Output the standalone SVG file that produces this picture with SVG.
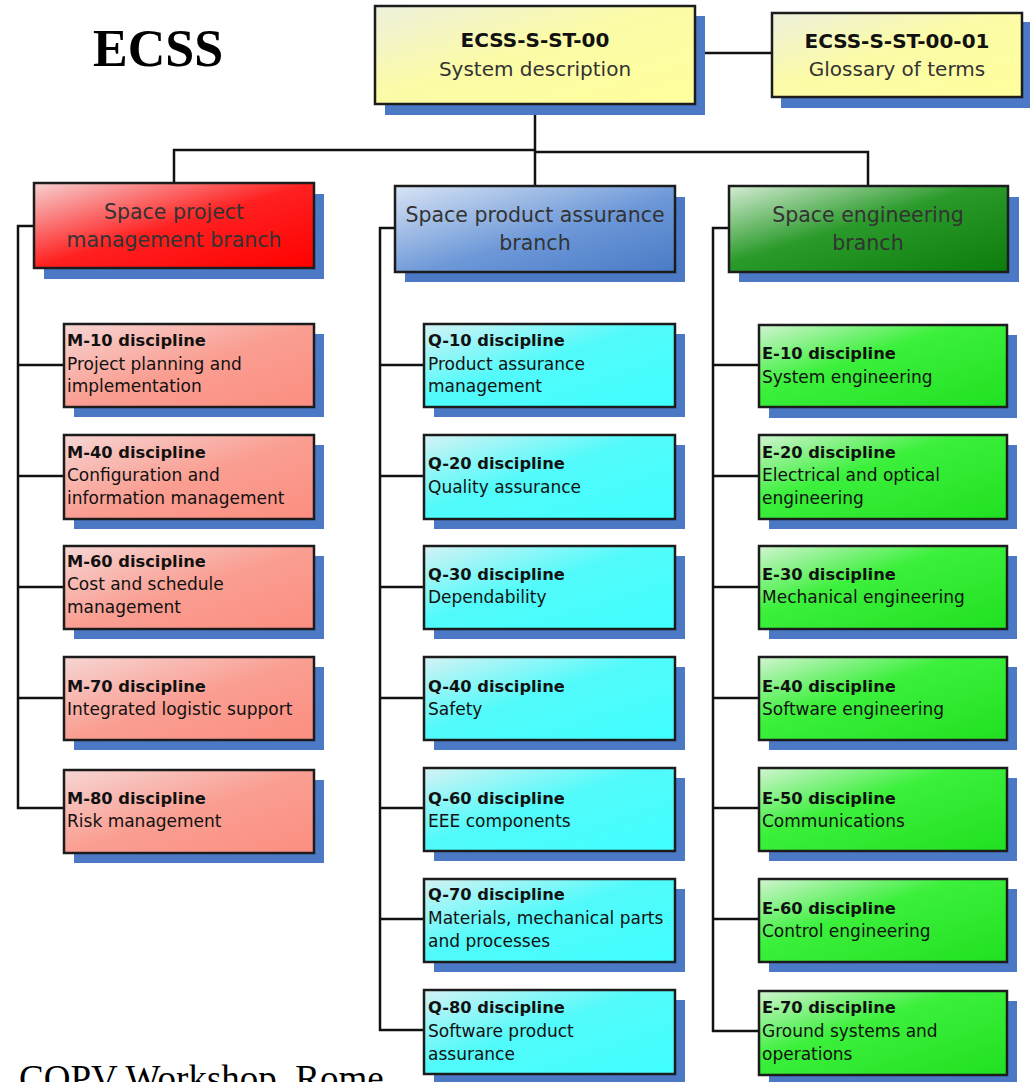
<svg xmlns="http://www.w3.org/2000/svg" width="1030" height="1082" viewBox="0 0 1030 1082">
<defs>
<style>
.sh{fill:#4b79c6}
.bx{stroke:#1c1c1c;stroke-width:2.5}
.conn{stroke:#111;stroke-width:2.5;fill:none}
.tb{font-family:"DejaVu Sans",sans-serif;font-weight:bold;font-size:16.3px;fill:#111}
.tn{font-family:"DejaVu Sans",sans-serif;font-size:17px;fill:#111}
.br{font-family:"DejaVu Sans",sans-serif;font-size:20.5px;fill:#333;text-anchor:middle}
.hd{font-family:"DejaVu Sans",sans-serif;font-weight:bold;font-size:20px;fill:#111;text-anchor:middle}
.hn{font-family:"DejaVu Sans",sans-serif;font-size:20px;fill:#333;text-anchor:middle}
.m{fill:url(#gM)}
.q{fill:url(#gQ)}
.e{fill:url(#gE)}
</style>
<linearGradient id="gY" x1="0" y1="0" x2="1" y2="1"><stop offset="0" stop-color="#eef0dc"/><stop offset="0.45" stop-color="#fbfba8"/><stop offset="1" stop-color="#ffff9c"/></linearGradient>
<linearGradient id="gR" x1="0" y1="0" x2="1" y2="1"><stop offset="0" stop-color="#f6d2d2"/><stop offset="0.5" stop-color="#ff2020"/><stop offset="1" stop-color="#ff0000"/></linearGradient>
<linearGradient id="gB" x1="0" y1="0" x2="1" y2="1"><stop offset="0" stop-color="#d8e4f4"/><stop offset="0.55" stop-color="#6d98d8"/><stop offset="1" stop-color="#4a7bc6"/></linearGradient>
<linearGradient id="gG" x1="0" y1="0" x2="1" y2="1"><stop offset="0" stop-color="#d4ecd4"/><stop offset="0.45" stop-color="#2a9a2a"/><stop offset="1" stop-color="#0c7c0c"/></linearGradient>
<linearGradient id="gM" x1="0" y1="0" x2="1" y2="1"><stop offset="0" stop-color="#f6d6d4"/><stop offset="0.5" stop-color="#fa9e92"/><stop offset="1" stop-color="#fb8e80"/></linearGradient>
<linearGradient id="gQ" x1="0" y1="0" x2="1" y2="1"><stop offset="0" stop-color="#d6f2f4"/><stop offset="0.45" stop-color="#52fafa"/><stop offset="1" stop-color="#40ffff"/></linearGradient>
<linearGradient id="gE" x1="0" y1="0" x2="1" y2="1"><stop offset="0" stop-color="#d2f4d2"/><stop offset="0.4" stop-color="#3cf03c"/><stop offset="1" stop-color="#20e020"/></linearGradient>
</defs>
<rect width="1030" height="1082" fill="#fff"/>

<text x="93" y="66" font-family="Liberation Serif,serif" font-weight="bold" font-size="52" fill="#000">ECSS</text>
<text x="19" y="1091" font-family="Liberation Serif,serif" font-size="37" fill="#000">COPV Workshop, Rome</text>

<g id="connectors">
<path class="conn" d="M694 53H772"/>
<path class="conn" d="M535 104V186M174 183V150H535M535 152H868V186"/>
<path class="conn" d="M34 226H18V808H64M18 365H64M18 476H64M18 587H64M18 698H64"/>
<path class="conn" d="M395 228H380V1030H424M380 365H424M380 476H424M380 587H424M380 698H424M380 808H424M380 919H424"/>
<path class="conn" d="M729 228H713V1031H759M713 365H759M713 476H759M713 587H759M713 698H759M713 808H759M713 919H759"/>
</g>

<g id="n-st00">
<rect class="sh" x="385" y="16" width="320" height="99"/>
<rect class="bx" x="375" y="6" width="320" height="98" fill="url(#gY)"/>
<text class="hd" x="535" y="47">ECSS-S-ST-00</text>
<text class="hn" x="535" y="76">System description</text>
</g>
<g id="n-st0001">
<rect class="sh" x="781" y="22" width="250" height="86"/>
<rect class="bx" x="772" y="13" width="250" height="84" fill="url(#gY)"/>
<text class="hd" x="897" y="48" font-size="19">ECSS-S-ST-00-01</text>
<text class="hn" x="897" y="76">Glossary of terms</text>
</g>

<g id="n-mgmt">
<rect class="sh" x="44" y="194" width="280" height="85"/>
<rect class="bx" x="34" y="183" width="280" height="85" fill="url(#gR)"/>
<text class="br" x="174" y="219">Space project</text>
<text class="br" x="174" y="247">management branch</text>
</g>
<g id="n-pa">
<rect class="sh" x="405" y="197" width="280" height="85"/>
<rect class="bx" x="395" y="186" width="280" height="86" fill="url(#gB)"/>
<text class="br" x="535" y="222">Space product assurance</text>
<text class="br" x="535" y="250">branch</text>
</g>
<g id="n-eng">
<rect class="sh" x="739" y="197" width="280" height="85"/>
<rect class="bx" x="729" y="186" width="279" height="86" fill="url(#gG)"/>
<text class="br" x="868" y="222">Space engineering</text>
<text class="br" x="868" y="250">branch</text>
</g>

<g id="n-m10"><rect class="sh" x="74" y="334" width="250" height="83"/><rect class="bx m" x="64" y="324" width="250" height="83"/>
<text class="tb" x="67" y="346">M-10 discipline</text><text class="tn" x="67" y="370">Project planning and</text><text class="tn" x="67" y="392">implementation</text></g>
<g id="n-m40"><rect class="sh" x="74" y="445" width="250" height="84"/><rect class="bx m" x="64" y="435" width="250" height="84"/>
<text class="tb" x="67" y="458">M-40 discipline</text><text class="tn" x="67" y="481">Configuration and</text><text class="tn" x="67" y="504">information management</text></g>
<g id="n-m60"><rect class="sh" x="74" y="556" width="250" height="83"/><rect class="bx m" x="64" y="546" width="250" height="83"/>
<text class="tb" x="67" y="567">M-60 discipline</text><text class="tn" x="67" y="590">Cost and schedule</text><text class="tn" x="67" y="613">management</text></g>
<g id="n-m70"><rect class="sh" x="74" y="667" width="250" height="83"/><rect class="bx m" x="64" y="657" width="250" height="83"/>
<text class="tb" x="67" y="692">M-70 discipline</text><text class="tn" x="67" y="715">Integrated logistic support</text></g>
<g id="n-m80"><rect class="sh" x="74" y="780" width="250" height="83"/><rect class="bx m" x="64" y="770" width="250" height="83"/>
<text class="tb" x="67" y="804">M-80 discipline</text><text class="tn" x="67" y="827">Risk management</text></g>

<g id="n-q10"><rect class="sh" x="434" y="334" width="251" height="83"/><rect class="bx q" x="424" y="324" width="251" height="83"/>
<text class="tb" x="428" y="346">Q-10 discipline</text><text class="tn" x="428" y="370">Product assurance</text><text class="tn" x="428" y="392">management</text></g>
<g id="n-q20"><rect class="sh" x="434" y="445" width="251" height="84"/><rect class="bx q" x="424" y="435" width="251" height="84"/>
<text class="tb" x="428" y="469">Q-20 discipline</text><text class="tn" x="428" y="493">Quality assurance</text></g>
<g id="n-q30"><rect class="sh" x="434" y="556" width="251" height="83"/><rect class="bx q" x="424" y="546" width="251" height="83"/>
<text class="tb" x="428" y="580">Q-30 discipline</text><text class="tn" x="428" y="603">Dependability</text></g>
<g id="n-q40"><rect class="sh" x="434" y="667" width="251" height="83"/><rect class="bx q" x="424" y="657" width="251" height="83"/>
<text class="tb" x="428" y="692">Q-40 discipline</text><text class="tn" x="428" y="715">Safety</text></g>
<g id="n-q60"><rect class="sh" x="434" y="778" width="251" height="83"/><rect class="bx q" x="424" y="768" width="251" height="83"/>
<text class="tb" x="428" y="804">Q-60 discipline</text><text class="tn" x="428" y="827">EEE components</text></g>
<g id="n-q70"><rect class="sh" x="434" y="889" width="251" height="83"/><rect class="bx q" x="424" y="879" width="251" height="83"/>
<text class="tb" x="428" y="900">Q-70 discipline</text><text class="tn" x="428" y="924">Materials, mechanical parts</text><text class="tn" x="428" y="947">and processes</text></g>
<g id="n-q80"><rect class="sh" x="434" y="1000" width="251" height="84"/><rect class="bx q" x="424" y="990" width="251" height="84"/>
<text class="tb" x="428" y="1013">Q-80 discipline</text><text class="tn" x="428" y="1037">Software product</text><text class="tn" x="428" y="1060">assurance</text></g>

<g id="n-e10"><rect class="sh" x="769" y="335" width="248" height="83"/><rect class="bx e" x="759" y="325" width="248" height="82"/>
<text class="tb" x="762" y="359">E-10 discipline</text><text class="tn" x="762" y="383">System engineering</text></g>
<g id="n-e20"><rect class="sh" x="769" y="445" width="248" height="84"/><rect class="bx e" x="759" y="435" width="248" height="84"/>
<text class="tb" x="762" y="458">E-20 discipline</text><text class="tn" x="762" y="481">Electrical and optical</text><text class="tn" x="762" y="504">engineering</text></g>
<g id="n-e30"><rect class="sh" x="769" y="556" width="248" height="83"/><rect class="bx e" x="759" y="546" width="248" height="83"/>
<text class="tb" x="762" y="580">E-30 discipline</text><text class="tn" x="762" y="603">Mechanical engineering</text></g>
<g id="n-e40"><rect class="sh" x="769" y="667" width="248" height="83"/><rect class="bx e" x="759" y="657" width="248" height="83"/>
<text class="tb" x="762" y="692">E-40 discipline</text><text class="tn" x="762" y="715">Software engineering</text></g>
<g id="n-e50"><rect class="sh" x="769" y="778" width="248" height="83"/><rect class="bx e" x="759" y="768" width="248" height="83"/>
<text class="tb" x="762" y="804">E-50 discipline</text><text class="tn" x="762" y="827">Communications</text></g>
<g id="n-e60"><rect class="sh" x="769" y="889" width="248" height="83"/><rect class="bx e" x="759" y="879" width="248" height="83"/>
<text class="tb" x="762" y="914">E-60 discipline</text><text class="tn" x="762" y="937">Control engineering</text></g>
<g id="n-e70"><rect class="sh" x="769" y="1001" width="248" height="84"/><rect class="bx e" x="759" y="991" width="248" height="84"/>
<text class="tb" x="762" y="1013">E-70 discipline</text><text class="tn" x="762" y="1037">Ground systems and</text><text class="tn" x="762" y="1060">operations</text></g>
</svg>
